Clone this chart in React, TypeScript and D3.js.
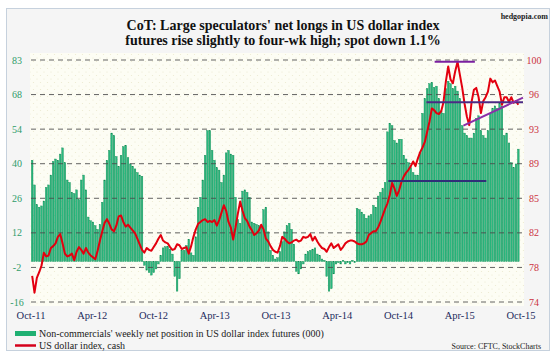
import React from "react";
import * as d3 from "d3";

const titleLines = [
  "CoT: Large speculators' net longs in US dollar index",
  "futures rise slightly to four-wk high; spot down 1.1%",
];
const xLabels = ["Oct-11", "Apr-12", "Oct-12", "Apr-13", "Oct-13", "Apr-14", "Oct-14", "Apr-15", "Oct-15"];
const leftLabels = ["-16", "-2", "12", "26", "40", "54", "68", "83"];
const rightLabels = ["74", "78", "82", "85", "89", "93", "96", "100"];

// Non-commercials' weekly net position (000), Oct-11 .. Oct-15
const netPosition = [
  41, 31, 23, 22, 22.5, 24.5, 30, 31, 35, 40.5,
  41.5, 41, 43.5, 46, 40, 33, 32, 28, 27.5, 29,
  25, 33, 35, 29, 18, 16.5, 16, 14.5, 13, 15,
  24, 33, 41, 45, 52, 51, 42.5, 38.5, 43, 46.5,
  47, 42, 39.5, 38.5, 37.5, 36, 35, 34.5, -1.5, -3.5,
  -4.5, -5.5, -4.5, -3, -1, 2.5, 5.5, 6, 6, 5,
  3, -6, -12, -7, 4.5, 4.5, 6.5, 9, 3.5, 2.5,
  10, 22, 26, 33, 43, 53, 53, 45, 41, 38,
  37, 32, 35, 44, 45, 43.5, 43, 26, 17, 15.5,
  28.5, 29, 28, 26, 16, 15.5, 15, 14.5, 14, 21,
  22, 12, 4.5, 2.5, 1, 1.5, 4, 8, 12, 14.5,
  15.5, 13, 7, -4, -5, -3, -1, 3, 4, 4.5,
  5, 5.5, 3, 2.4, 1, 0.5, -6, -12, -11, -5,
  -1, -0.5, -1, 0.5, -1, -0.5, -1, 0.5, -0.5, 21.5,
  21, 20, 19, 17.5, 18.5, 19, 22.7, 22, 26.5, 28,
  29.5, 32, 52.5, 56, 55, 49, 48, 49.5, 49.5, 43,
  41.5, 40, 38, 36, 35, 35, 44, 60, 66, 70,
  72, 72.5, 70.5, 71, 66, 61, 60, 70, 73, 72,
  70, 71, 69, 66, 55, 52, 51, 50, 50, 52,
  58, 59, 53, 51, 50, 53, 60, 62, 63, 62,
  64, 63, 51, 52, 48, 40, 38, 39.5, 45.5,
];

// US dollar index, cash (weekly)
const dollarIndex = [
  76.8, 75.0, 76.6, 77.2, 77.9, 79.3, 78.9, 79.0, 79.8, 80.0,
  80.3, 81.0, 81.3, 80.3, 79.2, 78.9, 79.0, 79.2, 78.5, 79.4,
  79.9, 79.6, 79.2, 79.8, 79.3, 79.0, 78.8, 78.6, 79.5, 80.6,
  81.6, 82.5, 82.9, 82.4, 81.8, 81.6, 82.2, 83.2, 83.3, 82.6,
  82.1, 82.3, 82.0, 81.7, 81.4, 80.8, 80.2, 79.6, 79.3, 79.8,
  79.6, 79.5, 79.9, 80.3, 80.8, 81.2, 80.6, 80.4, 80.3, 79.9,
  79.6, 79.7, 80.2, 80.1, 79.7, 79.8, 79.9, 79.2, 80.0, 81.0,
  81.8, 82.4, 82.6, 82.8, 82.9, 82.6, 82.7, 82.6, 82.8, 82.2,
  82.8, 83.6, 84.4, 83.8, 82.6, 82.0, 80.7, 82.0, 83.5, 84.8,
  83.8, 83.0, 82.7, 82.1, 81.7, 81.2, 81.4, 81.7, 82.3, 81.8,
  80.8, 80.5, 80.0, 79.6, 79.4, 79.3, 80.0, 81.0, 80.8, 80.5,
  80.3, 80.4, 80.6, 80.7, 80.5, 80.6, 81.0, 80.9, 81.0, 81.3,
  80.6, 81.0, 80.5, 80.1, 79.8, 79.7, 79.4, 79.9, 80.3, 79.8,
  80.0, 80.2, 79.6, 79.9, 80.3, 80.5, 80.6, 80.6, 80.5, 80.3,
  80.2, 80.2, 80.3, 80.5, 81.2, 81.4, 81.6, 81.6, 82.0, 82.6,
  83.3, 84.0, 84.6, 85.5, 86.8, 86.2, 85.4, 86.0, 86.9, 87.5,
  87.9, 88.2, 88.6, 89.1, 88.6, 89.4, 90.1, 90.6, 91.2, 92.3,
  93.4, 94.8, 94.6, 94.3, 94.2, 94.5, 95.5, 97.7, 99.3, 97.9,
  97.5, 98.8, 99.8, 98.4, 97.0, 95.3, 93.9, 93.0, 95.5, 96.8,
  97.0, 96.0, 94.3, 95.6, 96.0, 96.6, 98.0, 97.6, 97.8, 97.2,
  96.6, 95.2, 96.0, 96.0, 95.5, 96.0, 95.4, 95.6, 95.2,
];

// Annotation lines on the right axis
const annotStart = [152.4, 172.2, 168.7, 184.5];
const annotStartVal = [87.0, 99.8, 95.45, 92.94];
const annotEnd = [194.3, 189.4, 210, 210];
const annotEndVal = [87.0, 99.8, 95.45, 95.95];
const annotColors = ["#2f2f78", "#7a1fa0", "#4b2a84", "#8a2ea8"];

const W = 556;
const H = 361;
const plotLeft = 31;
const plotRight = 519.5;
const plotTop = 60;
const plotBottom = 302;
const serif = "'Liberation Serif', 'Times New Roman', serif";

export default function App() {
  const idx = netPosition.map((_, i) => i);
  const x = d3.scaleBand<number>().domain(idx).range([plotLeft, plotRight]).paddingInner(0.3).paddingOuter(0.15);
  const xc = d3.scaleLinear().domain([-0.5, netPosition.length - 0.5]).range([plotLeft, plotRight]);
  const yL = d3.scaleLinear().domain([-16.4, 81.6]).range([plotBottom, plotTop]);
  const yR = d3.scaleLinear().domain([74, 100]).range([plotBottom, plotTop]);
  const yGrid = d3.scaleLinear().domain([0, leftLabels.length - 1]).range([plotBottom, plotTop]);
  const xLab = d3.scalePoint<string>().domain(xLabels).range([31, 521]);

  const line = d3
    .line<number>()
    .x((_, i) => xc(i))
    .y((d) => yR(d))
    .curve(d3.curveLinear);

  return (
    <svg width={W} height={H} style={{ position: "absolute", left: 0, top: 0, display: "block" }}>
      <defs>
        <pattern id="dots" width="7" height="7" patternUnits="userSpaceOnUse">
          <rect width="7" height="7" fill="#fdfdf4" />
          <circle cx="2" cy="2" r="0.6" fill="#ecead0" />
          <circle cx="5.5" cy="5.5" r="0.6" fill="#ecead0" />
        </pattern>
      </defs>
      <rect x={0} y={0} width={W} height={H} fill="#ffffff" />
      <rect x={6.5} y={8.5} width={543} height={342} fill="#f5f5f5" stroke="#c6d1dd" strokeWidth={1} />
      <rect x={30} y={53} width={494} height={253} fill="url(#dots)" />

      {/* bars */}
      {netPosition.map((v, i) => (
        <rect
          key={i}
          x={x(i)}
          y={Math.min(yL(v), yL(0))}
          width={x.bandwidth()}
          height={Math.abs(yL(v) - yL(0))}
          fill="#2ab87f"
          stroke="#0f8a52"
          strokeWidth={0.4}
        />
      ))}

      {/* gridlines */}
      {leftLabels.map((_, k) => (
        <line
          key={k}
          x1={plotLeft}
          x2={522}
          y1={yGrid(k)}
          y2={yGrid(k)}
          stroke="#4a4a4a"
          strokeWidth={1}
          strokeDasharray="5,4"
          opacity={0.85}
        />
      ))}

      {/* dollar index line */}
      <path d={line(dollarIndex) || ""} fill="none" stroke="#e3000f" strokeWidth={2} strokeLinejoin="round" />

      {/* annotations */}
      {annotStart.map((s, k) => (
        <line
          key={k}
          x1={xc(s)}
          y1={yR(annotStartVal[k])}
          x2={xc(annotEnd[k])}
          y2={yR(annotEndVal[k])}
          stroke={annotColors[k]}
          strokeWidth={2}
        />
      ))}

      {/* axis labels */}
      {leftLabels.map((t, k) => (
        <text key={t} x={17} y={yGrid(k) + 3.5} textAnchor="middle" fontFamily={serif} fontSize={10} fill="#2f9c6a">
          {t}
        </text>
      ))}
      {rightLabels.map((t, k) => (
        <text key={t} x={534} y={yGrid(k) + 3.5} textAnchor="middle" fontFamily={serif} fontSize={10} fill="#cc3340">
          {t}
        </text>
      ))}
      {xLabels.map((t) => (
        <text key={t} x={xLab(t)} y={319} textAnchor="middle" fontFamily={serif} fontSize={10.5} fill="#1d2b5c">
          {t}
        </text>
      ))}

      {/* title */}
      {titleLines.map((t, k) => (
        <text key={k} x={283} y={30 + k * 15} textAnchor="middle" fontFamily={serif} fontWeight="bold" fontSize={14} fill="#111">
          {t}
        </text>
      ))}
      <text x={548} y={19} textAnchor="end" fontFamily={serif} fontWeight="bold" fontSize={8} fill="#222">
        hedgopia.com
      </text>

      {/* legend */}
      <rect x={15} y={331} width={21} height={5} fill="#1fb072" />
      <text x={39} y={336.5} fontFamily={serif} fontSize={10} fill="#1a1a1a">
        Non-commercials' weekly net position in US dollar index futures (000)
      </text>
      <line x1={15} x2={36} y1={345.5} y2={345.5} stroke="#d4001a" strokeWidth={2.5} />
      <text x={39} y={349} fontFamily={serif} fontSize={10} fill="#1a1a1a">
        US dollar index, cash
      </text>
      <text x={541} y={349} textAnchor="end" fontFamily={serif} fontSize={8} fill="#222">
        Source: CFTC, StockCharts
      </text>
    </svg>
  );
}
